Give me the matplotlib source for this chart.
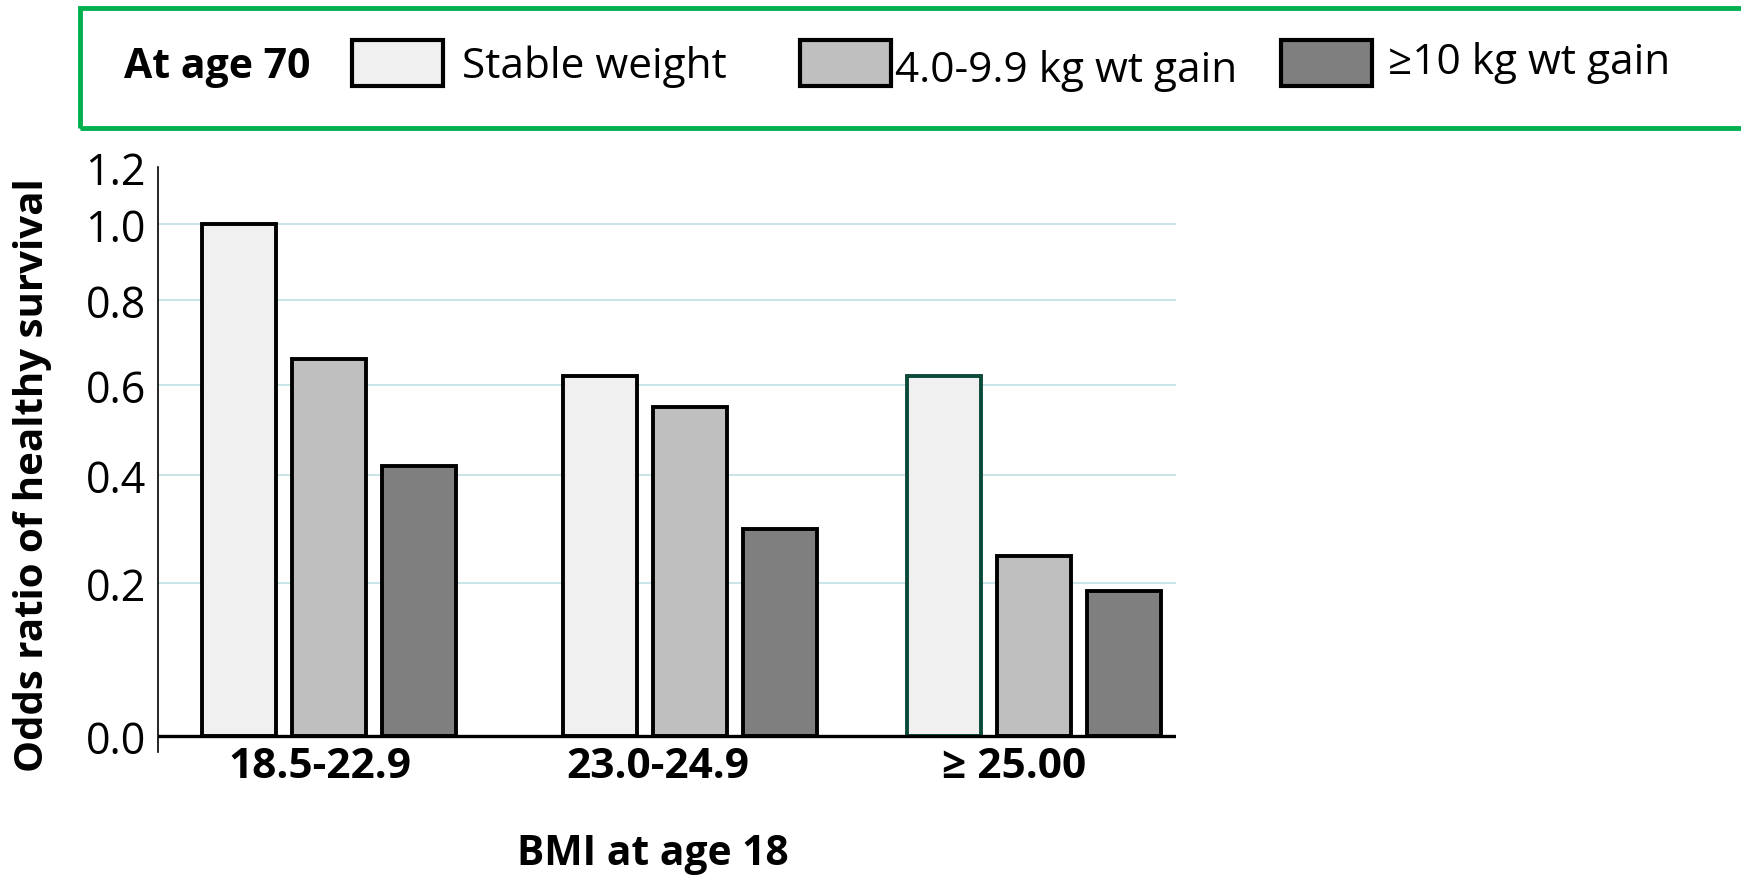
import numpy as np
import matplotlib
matplotlib.use('Agg')
import matplotlib.pyplot as plt
from matplotlib.patches import Rectangle

groups = ['18.5-22.9', '23.0-24.9', '≥ 25.00']
series = ['Stable weight', '4.0-9.9 kg wt gain', '≥10 kg wt gain']
stable = [1.00, 0.62, 0.62]
gain_4_10 = [0.66, 0.55, 0.25]
gain_10 = [0.42, 0.30, 0.19]
yticks = [0.0, 0.2, 0.4, 0.6, 0.8, 1.0, 1.2]

colors = ['#f0f0f0', '#bfbfbf', '#7f7f7f']

# the original axis is spaced unevenly, so map tick values to drawn heights (px above 0)
tick_px = [0, 152, 260, 350, 434, 510, 567]
ext_v = [-1.0] + yticks + [2.2]
ext_p = [-760] + tick_px + [852]


def fwd(v):
    return np.interp(v, ext_v, ext_p)


def inv(p):
    return np.interp(p, ext_p, ext_v)


W, H = 1741, 878
fig = plt.figure(figsize=(W / 100, H / 100), dpi=100)
ax = fig.add_axes([157.7 / W, (H - 753) / H, (1175.8 - 157.7) / W, (753 - 168) / H])
ax.set_yscale('function', functions=(fwd, inv))

gx = np.array([0.0, 1.0, 1.954])
offs = [-0.249, 0.0, 0.249]
bw = 0.205

for y in yticks[1:-1]:
    ax.axhline(y, color='#bfe0e3', lw=1.2, zorder=0)

data = [stable, gain_4_10, gain_10]
for i, vals in enumerate(data):
    edges = ['black'] * len(vals)
    if i == 0:
        edges[2] = '#0b4a3a'
    ax.bar(gx + offs[i], vals, width=bw, color=colors[i], edgecolor=edges,
           linewidth=2.8, zorder=2)

ax.axhline(0, color='black', lw=2.4, zorder=3)

ax.set_xlim(-0.475, 2.346)
ax.set_ylim(-0.021, 1.2)
ax.set_yticks(yticks, ['%.1f' % t for t in yticks])
ax.tick_params(axis='y', length=0, pad=8.5, labelsize=31, labelfontfamily='Open Sans')
ax.set_xticks(gx + np.array([-0.025, -0.089, -0.056]), groups)
ax.tick_params(axis='x', length=0, pad=18, labelsize=30.5, labelfontfamily='Open Sans')
for lbl in ax.get_xticklabels():
    lbl.set_va('baseline')
    lbl.set_fontweight('bold')

for s in ['top', 'right', 'bottom']:
    ax.spines[s].set_visible(False)
ax.spines['left'].set_linewidth(1.2)

fig.text(33 / W, 1 - 475 / H, 'Odds ratio of healthy survival', rotation=90,
         ha='center', va='center', fontsize=29, fontweight='bold', family='Open Sans')
fig.text(653 / W, 1 - 855 / H, 'BMI at age 18', ha='center', va='center',
         fontsize=29.3, fontweight='bold', family='Open Sans')

# legend box
fig.add_artist(Rectangle((80 / W, 1 - 129 / H), 1.0, 120 / H, transform=fig.transFigure,
                         facecolor='none', edgecolor='#00b050', lw=3.5))
fig.text(124 / W, 1 - 78 / H, 'At age 70', ha='left', va='baseline',
         fontsize=29.5, fontweight='bold', family='Open Sans')
box_x = [352, 800, 1281]
text_x = [462, 895, 1388]
text_base = [78, 81.5, 73.5]
for i, name in enumerate(series):
    fig.add_artist(Rectangle((box_x[i] / W, 1 - 87 / H), 91 / W, 46 / H,
                             transform=fig.transFigure, facecolor=colors[i],
                             edgecolor='black', lw=3))
    fig.text(text_x[i] / W, 1 - text_base[i] / H, name, ha='left', va='baseline',
             fontsize=30.5, family='Open Sans')

fig.savefig('out.png', dpi=100)
